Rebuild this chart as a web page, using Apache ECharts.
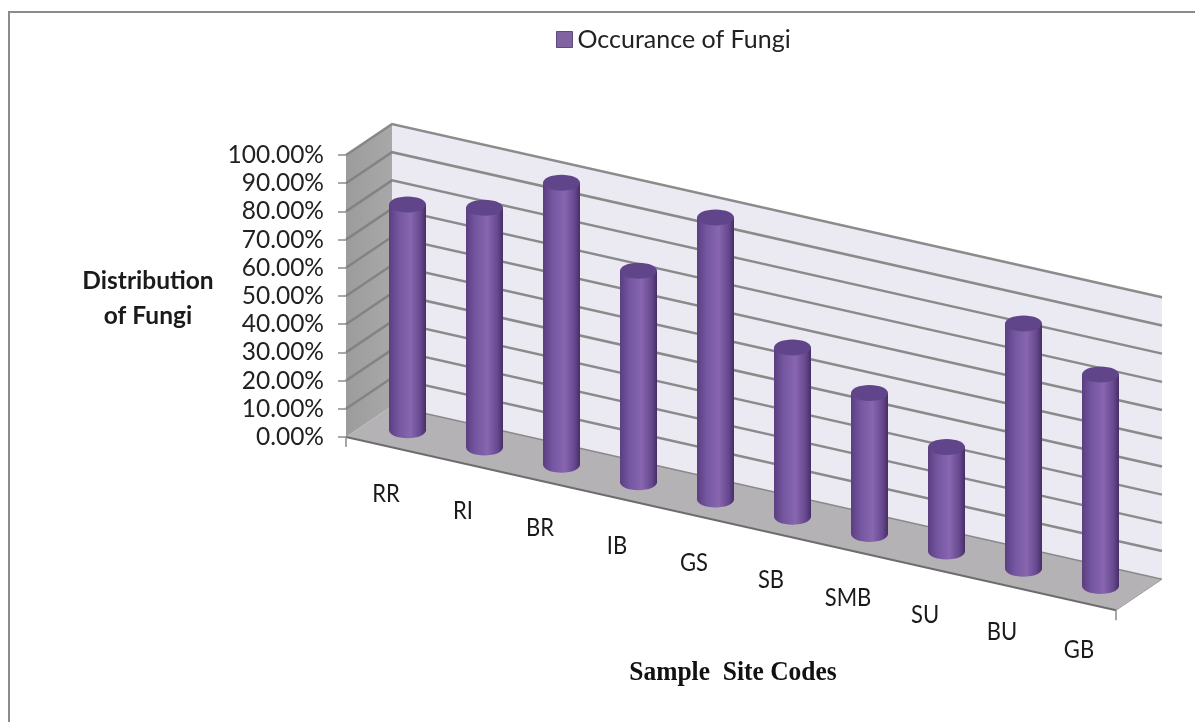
<!DOCTYPE html>
<html><head><meta charset="utf-8">
<style>html,body{margin:0;padding:0;background:#fff}#c{width:1195px;height:725px}</style>
<script src="https://cdn.jsdelivr.net/npm/echarts@6/dist/echarts.min.js"></script>
</head><body><div id="c"></div>
<script>
const categories = ['RR','RI','BR','IB','GS','SB','SMB','SU','BU','GB'];
const fungi = [80,85,100,75,100,60,50,37,87,75];
const tickValues = [0,10,20,30,40,50,60,70,80,90,100];
const seriesName = 'Occurance of Fungi';
const yTitle = 'Distribution\nof Fungi';
const xTitle = 'Sample  Site Codes';

const SLOPE = 0.225, DEPTH = [46,-31];
function projector(api){
  const band = api.size([1,0])[0];
  const x0 = api.coord([0,0])[0] - band/2;
  // i: category position (may be fractional), v: value, d: depth 0..1
  return function(i,v,d){
    const base = Math.round(i);
    const p = api.coord([base,v]);
    const x = p[0] + (i-base)*band;
    return [x + d*DEPTH[0], p[1] + SLOPE*(x-x0) + d*DEPTH[1]];
  };
}
const L = -0.5, R = categories.length-0.5;
const GRID_C = '#7f7f7f';

function renderPanels(params, api){
  const P = projector(api);
  const top = tickValues[tickValues.length-1], bot = tickValues[0];
  const poly = (pts,fill)=>({type:'polygon',shape:{points:pts},style:{fill:fill}});
  return {type:'group',children:[
    poly([P(L,bot,1),P(L,top,1),P(R,top,1),P(R,bot,1)],'#ebe9f2'),
    poly([P(L,bot,0),P(L,top,0),P(L,top,1),P(L,bot,1)],
      {type:'linear',x:0,y:0,x2:1,y2:0,colorStops:[{offset:0,color:'#9c9c9c'},{offset:1,color:'#a8a8a8'}]}),
    poly([P(L,bot,0),P(L,bot,1),P(R,bot,1),P(R,bot,0)],'#b4b2b5'),
    {type:'polyline',shape:{points:[P(L,bot,1),P(R,bot,1)]},style:{stroke:'#8a8a8a',lineWidth:1.5,fill:null}},
    {type:'polyline',shape:{points:[P(L,bot,0),P(R,bot,0)]},style:{stroke:'#6d6d6d',lineWidth:2,fill:null}},
    {type:'polyline',shape:{points:[P(R,bot,0),P(R,bot,1)]},style:{stroke:'#a0a0a0',lineWidth:1,fill:null}},
    {type:'line',shape:{x1:P(L,bot,0)[0],y1:P(L,bot,0)[1],x2:P(L,bot,0)[0],y2:P(L,bot,0)[1]+10},style:{stroke:'#8a8a8a',lineWidth:1.5}},
    {type:'line',shape:{x1:P(R,bot,0)[0],y1:P(R,bot,0)[1],x2:P(R,bot,0)[0],y2:P(R,bot,0)[1]+10},style:{stroke:'#8a8a8a',lineWidth:1.5}}
  ]};
}
function renderGrid(params, api){
  const P = projector(api), v = api.value(0);
  if (v === tickValues[0]) return {type:'group',children:[]};
  return {type:'polyline',shape:{points:[P(L,v,0),P(L,v,1),P(R,v,1)]},
    style:{stroke:GRID_C,lineWidth:2.5,fill:null,opacity:0.9}};
}
function renderBar(params, api){
  const P = projector(api), i = api.value(0), v = api.value(1);
  const b = P(i,0,0.5), t = P(i,v,0.5);
  const rx = 18.5, ry = 8;
  const grad = {type:'linear',x:0,y:0,x2:1,y2:0,colorStops:[
    {offset:0,color:'#5a3e80'},{offset:0.25,color:'#7355a0'},{offset:0.58,color:'#8866b0'},
    {offset:0.85,color:'#66498f'},{offset:1,color:'#472d66'}]};
  return {type:'group',children:[
    {type:'ellipse',shape:{cx:b[0],cy:b[1],rx:rx,ry:ry},style:{fill:grad}},
    {type:'rect',shape:{x:b[0]-rx,y:t[1],width:rx*2,height:b[1]-t[1]},style:{fill:grad}},
    {type:'ellipse',shape:{cx:t[0],cy:t[1],rx:rx,ry:ry},style:{fill:'#60458a'}}
  ]};
}
function renderCat(params, api){
  const P = projector(api), i = api.value(0);
  const p = P(i,0,0);
  return {type:'text',x:p[0]+1.5,y:p[1]+48,scaleX:0.88,style:{text:categories[i],fill:'#1a1a1a',
    font:'25px Lato',textAlign:'center',textVerticalAlign:'middle'}};
}

const chart = echarts.init(document.getElementById('c'),null,{renderer:'canvas'});
chart.setOption({
  animation:false,
  backgroundColor:'#fff',
  legend:{show:true,data:[{name:seriesName,icon:'rect'}],left:551,top:22,itemWidth:16,itemHeight:16,itemGap:7,
    textStyle:{fontFamily:'Lato',fontSize:25,color:'#222'},
    itemStyle:{color:'#8064a2',borderColor:'#5f4a80',borderWidth:1}},
  grid:{left:346,top:155,width:770,height:282},
  xAxis:{type:'category',data:categories,show:false},
  yAxis:{type:'value',min:0,max:100,interval:10,
    axisLine:{show:false},splitLine:{show:false},
    axisTick:{show:true,length:8,lineStyle:{color:'#8a8a8a',width:1.5}},
    axisLabel:{margin:22,fontFamily:'Lato',fontSize:24.5,color:'#222',formatter:v=>v.toFixed(2)+'%'}},
  graphic:[
    {type:'polyline',silent:true,shape:{points:[[1195,12],[9,12],[9,722]]},style:{stroke:'#8c8c8c',lineWidth:2,fill:null}},
    {type:'text',x:148,y:298,scaleX:0.98,style:{text:yTitle,font:'bold 25px Lato',fill:'#1a1a1a',textAlign:'center',textVerticalAlign:'middle',lineHeight:35}},
    {type:'text',x:733,y:673,scaleX:0.91,style:{text:xTitle,font:'bold 28px "Liberation Serif"',fill:'#111',textAlign:'center',textVerticalAlign:'middle'}}
  ],
  series:[
    {type:'custom',name:'panels',silent:true,renderItem:renderPanels,data:[[0]],encode:{x:0,y:-1},z:1},
    {type:'custom',name:'gridlines',silent:true,renderItem:renderGrid,data:tickValues.map(v=>[v]),encode:{y:0},z:2},
    {type:'custom',name:seriesName,renderItem:renderBar,itemStyle:{color:'#8064a2'},
      data:fungi.map((v,i)=>[i,v]),encode:{x:0,y:1},z:3},
    {type:'custom',name:'sites',silent:true,renderItem:renderCat,data:categories.map((c,i)=>[i]),encode:{x:0},z:4}
  ]
});
</script></body></html>
